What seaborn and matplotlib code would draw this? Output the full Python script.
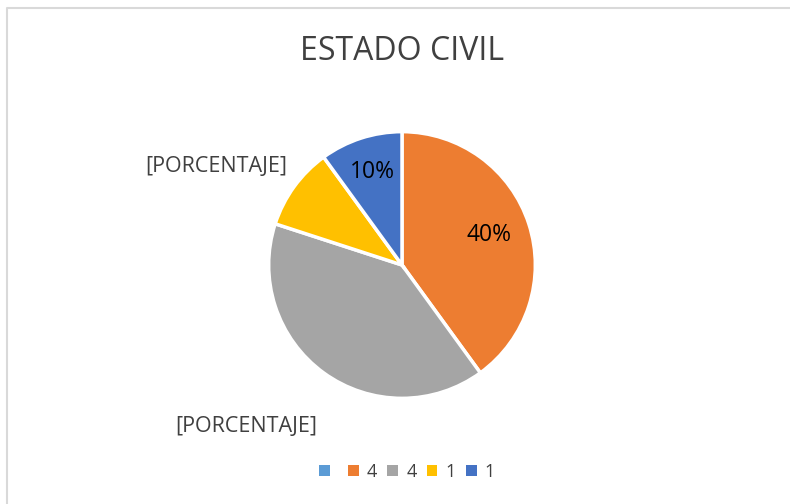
import numpy as np
import matplotlib
matplotlib.use("Agg")
import matplotlib.pyplot as plt
import seaborn as sns
from matplotlib.lines import Line2D

sns.set_theme(style="white")
plt.rcParams['font.family'] = ['Open Sans', 'DejaVu Sans']

# Data
categories = ["", "4", "4", "1", "1"]
values = [0, 4, 4, 1, 1]
colors = ["#5B9BD5", "#ED7D31", "#A5A5A5", "#FFC000", "#4472C4"]
label_texts = [None, "40%", "[PORCENTAJE]", "[PORCENTAJE]", "10%"]
title = "ESTADO CIVIL"

W, H = 790, 504
fig = plt.figure(figsize=(W / 100, H / 100), dpi=100)
fig.patch.set_facecolor("white")

# chart border (only top and left visible in the crop)
fig.lines.append(Line2D([6.5 / W, 6.5 / W, 1.0], [0, 1 - 8 / H, 1 - 8 / H],
                        transform=fig.transFigure, color="#D9D9D9", linewidth=1.5))

cx, cy = 402, 265
box = 400
ax = fig.add_axes([(cx - box / 2) / W, (H - cy - box / 2) / H, box / W, box / H])
wedges, _ = ax.pie(values, colors=colors, startangle=90, counterclock=False,
                   radius=1.0, wedgeprops=dict(edgecolor="white", linewidth=2.5))
ax.set_xlim(-1.5, 1.5)
ax.set_ylim(-1.5, 1.5)
ax.set_aspect("equal")
ax.axis("off")

# label placement (distance, angle offset, size, color) per wedge
place = {1: (0.69, 1, 16.5, "#000000"), 4: (0.73, 0, 16.5, "#000000"),
         3: (1.58, 8, 15.5, "#404040"), 2: (1.68, -8, 15.5, "#404040")}
for i, w in enumerate(wedges):
    if label_texts[i] is None or values[i] == 0:
        continue
    d, off, fs, col = place[i]
    ang = np.deg2rad((w.theta1 + w.theta2) / 2 + off)
    ax.text(d * np.cos(ang), d * np.sin(ang), label_texts[i], ha="center", va="center",
            fontsize=fs, color=col)

fig.text(cx / W, 1 - 52 / H, title, ha="center", va="center", fontsize=23, color="#404040")

leg = fig.legend(wedges, categories, loc="center", bbox_to_anchor=(407 / W, 1 - 472 / H),
                 ncol=5, frameon=False, handlelength=0.6, handleheight=0.6,
                 handletextpad=0.45, columnspacing=0.55, fontsize=13)
for t in leg.get_texts():
    t.set_color("#404040")
for h in leg.legend_handles:
    h.set_edgecolor("none")

fig.savefig("out.png", dpi=100)
